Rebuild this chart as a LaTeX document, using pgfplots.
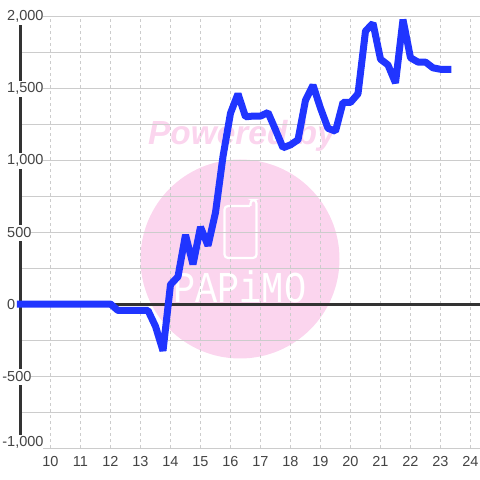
\documentclass[border=0pt]{standalone}
\usepackage{pgfplots}
\pgfplotsset{compat=1.18}
\usepackage{fontspec}
\setmainfont{Liberation Sans}
\newfontfamily\monof{Liberation Mono}
\definecolor{wm}{HTML}{FBD5EE}
\definecolor{gridc}{HTML}{CCCCCC}
\definecolor{axc}{HTML}{333333}
\definecolor{txt}{HTML}{444444}
\definecolor{blu}{HTML}{2035FF}
\newcommand\mthou{\llap{-}1{,}000}
\pgfplotsset{base/.style={
  at={(20.5pt,32pt)}, anchor=south west,
  scale only axis, width=459.5pt, height=432pt,
  xmin=9, xmax=24.3167, ymin=-1000, ymax=2000,
  axis line style={draw=none},
  major tick length=0pt, minor tick length=0pt,
  tick style={draw=none},
  clip=false,
  /pgf/number format/assume math mode=true,
}}
\begin{document}
\begin{tikzpicture}
\path[use as bounding box] (0,0) rectangle (480pt,480pt);
% watermark, in page coordinates
\begin{scope}[shift={(20.5pt,32pt)}]
  \fill[wm] (219.5pt,189pt) circle[radius=99.5pt];
  \node[anchor=base west, inner sep=0pt, text=wm, font=\fontsize{33.4}{36}\selectfont\bfseries\itshape] at (127.5pt,303pt) {Powered by};
  \draw[white, line width=2.2pt, rounded corners=3.5pt]
    (229.5pt,242pt) -- (204pt,242pt) -- (204pt,190pt) -- (236pt,190pt) -- (236pt,248pt) -- (230pt,248pt) -- (230pt,242pt);
  \node[anchor=base west, inner sep=0pt, text=white, xscale=0.84, font=\monof\fontsize{44}{46}\selectfont] at (152.5pt,145pt) {PAPiMO};
\end{scope}
% grid and dark axis lines
\begin{axis}[base,
  xtick={10,...,24}, xticklabels={},
  ytick={-1000,-750,...,2000}, yticklabels={},
  xmajorgrids=true, ymajorgrids=true,
  every axis x grid/.style={draw=gridc, line width=0.9pt, dash pattern=on 2.5pt off 3.5pt},
  every axis y grid/.style={draw=gridc, line width=0.9pt},
]
\addplot[draw=axc, line width=3pt] coordinates {(9,-1000) (9,2000)};
\addplot[draw=axc, line width=3pt] coordinates {(9,0) (24.3167,0)};
\end{axis}
% labels over them, then the series
\begin{axis}[base,
  xtick={10,...,24},
  ytick={2000,1500,1000,500,0,-500},
  yticklabels={{2,000},{1,500},{1,000},500,0,\llap{-}500},
  extra y ticks={-1000},
  extra y tick labels={\mthou},
  extra y tick style={yticklabel style={yshift=6pt}},
  tick label style={font=\fontsize{14.5}{16}\selectfont, text=txt},
  yticklabel style={anchor=west, xshift=-13.5pt, yshift=-0.7pt, fill=white, inner sep=0pt, minimum height=16pt},
  xticklabel style={yshift=-5pt},
]
\addplot[blu, line width=7pt, line cap=rect, line join=bevel] coordinates {
(9,0)(9.25,0)(9.5,0)(9.75,0)(10,0)(10.25,0)(10.5,0)(10.75,0)(11,0)(11.25,0)(11.5,0)(11.75,0)(12,0)
(12.25,-45)(12.5,-45)(12.75,-45)(13,-45)(13.25,-45)(13.5,-155)(13.75,-325)
(14,135)(14.25,190)(14.5,480)(14.75,275)(15,535)(15.25,405)(15.5,635)(15.75,1025)
(16,1325)(16.25,1460)(16.5,1300)(16.75,1305)(17,1305)(17.25,1330)(17.5,1210)(17.75,1085)
(18,1105)(18.25,1140)(18.5,1415)(18.75,1520)(19,1360)(19.25,1220)(19.5,1200)(19.75,1400)
(20,1400)(20.25,1460)(20.5,1895)(20.75,1950)(21,1700)(21.25,1660)(21.5,1535)(21.75,1975)
(22,1710)(22.25,1680)(22.5,1680)(22.75,1640)(23,1630)(23.25,1630)
};
\end{axis}
\end{tikzpicture}
\end{document}
